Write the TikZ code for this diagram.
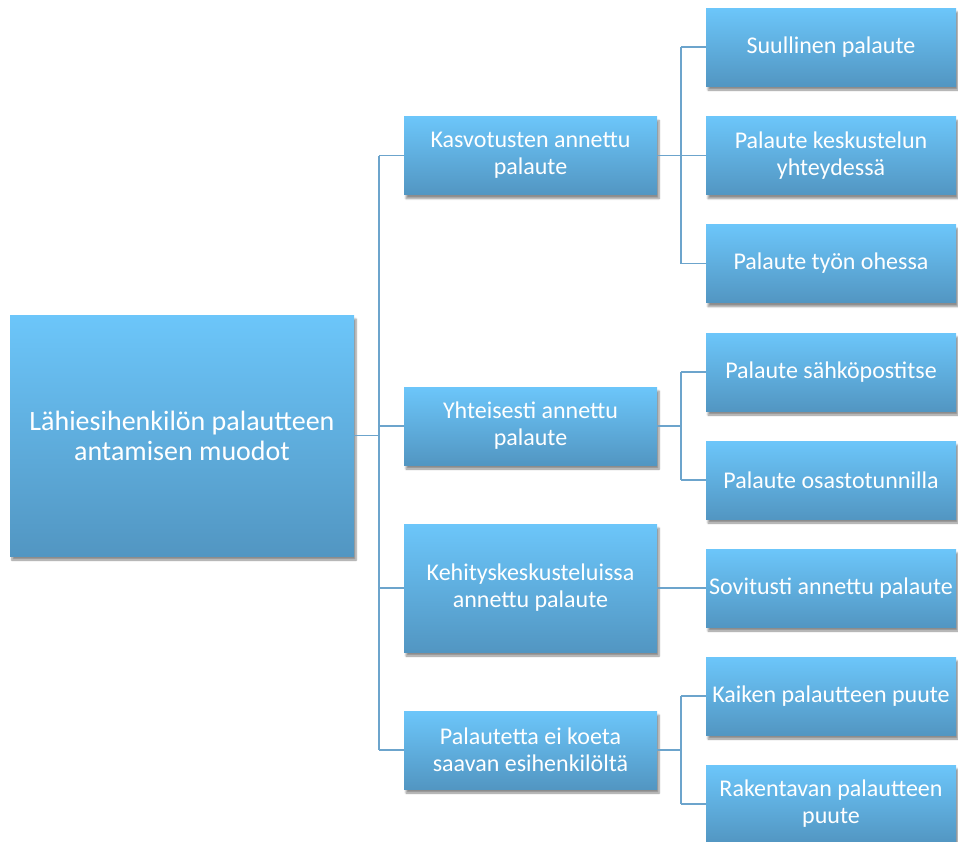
\documentclass[tikz,border=0pt]{standalone}
\usepackage{fontspec}
\setmainfont{Carlito}
\usetikzlibrary{shadows.blur}
\definecolor{boxtop}{RGB}{108,198,250}
\definecolor{boxbot}{RGB}{82,150,194}
\definecolor{linkcol}{RGB}{108,164,204}
\tikzset{
  box/.style={rectangle, draw=none, top color=boxtop, bottom color=boxbot,
    text=white, align=center, inner sep=0pt,
    blur shadow={shadow xshift=2pt, shadow yshift=-4pt, shadow blur steps=6, shadow opacity=45}},
  rootbox/.style={box, minimum width=344pt, minimum height=241pt,
    font=\fontsize{28}{30}\selectfont},
  midbox/.style={box, minimum width=253pt, minimum height=78pt,
    font=\fontsize{24}{27}\selectfont},
  leafbox/.style={box, minimum width=250pt, minimum height=78pt,
    font=\fontsize{24}{27}\selectfont},
  link/.style={draw=linkcol, line width=1.8pt}
}
\begin{document}
\begin{tikzpicture}[x=1pt,y=-1pt]
\useasboundingbox (0,0) rectangle (958,841);
% root
\node[rootbox] (root) at (182,435.5) {Lähiesihenkilön palautteen\\antamisen muodot};
% second level
\node[midbox] (k) at (530.5,155.5) {Kasvotusten annettu\\palaute};
\node[midbox] (y) at (530.5,426) {Yhteisesti annettu\\palaute};
\node[midbox, minimum height=128pt] (h) at (530.5,588) {Kehityskeskusteluissa\\annettu palaute};
\node[midbox] (p) at (530.5,750) {Palautetta ei koeta\\saavan esihenkilöltä};
% third level
\node[leafbox] (k1) at (831,47) {Suullinen palaute};
\node[leafbox] (k2) at (831,155.5) {Palaute keskustelun\\yhteydessä};
\node[leafbox] (k3) at (831,263.5) {Palaute työn ohessa};
\node[leafbox] (y1) at (831,372) {Palaute sähköpostitse};
\node[leafbox] (y2) at (831,480) {Palaute osastotunnilla};
\node[leafbox] (h1) at (831,588) {Sovitusti annettu palaute};
\node[leafbox] (p1) at (831,696) {Kaiken palautteen puute};
\node[leafbox] (p2) at (831,804) {Rakentavan palautteen\\puute};
% trunk from root
\coordinate (tr) at (379,0);
\path[link] (root.east) -- (root.east -| tr);
\path[link] (k.west -| tr) -- (p.west -| tr);
\foreach \n in {k,y,h,p} \path[link] (\n.west -| tr) -- (\n.west);
% branches to the third level
\coordinate (br) at (681,0);
\path[link] (k.east) -- (k.east -| br);
\path[link] (k1.west -| br) -- (k3.west -| br);
\foreach \n in {k1,k2,k3} \path[link] (\n.west -| br) -- (\n.west);
\path[link] (y.east) -- (y.east -| br);
\path[link] (y1.west -| br) -- (y2.west -| br);
\foreach \n in {y1,y2} \path[link] (\n.west -| br) -- (\n.west);
\path[link] (h.east) -- (h1.west);
\path[link] (p.east) -- (p.east -| br);
\path[link] (p1.west -| br) -- (p2.west -| br);
\foreach \n in {p1,p2} \path[link] (\n.west -| br) -- (\n.west);
\end{tikzpicture}
\end{document}
